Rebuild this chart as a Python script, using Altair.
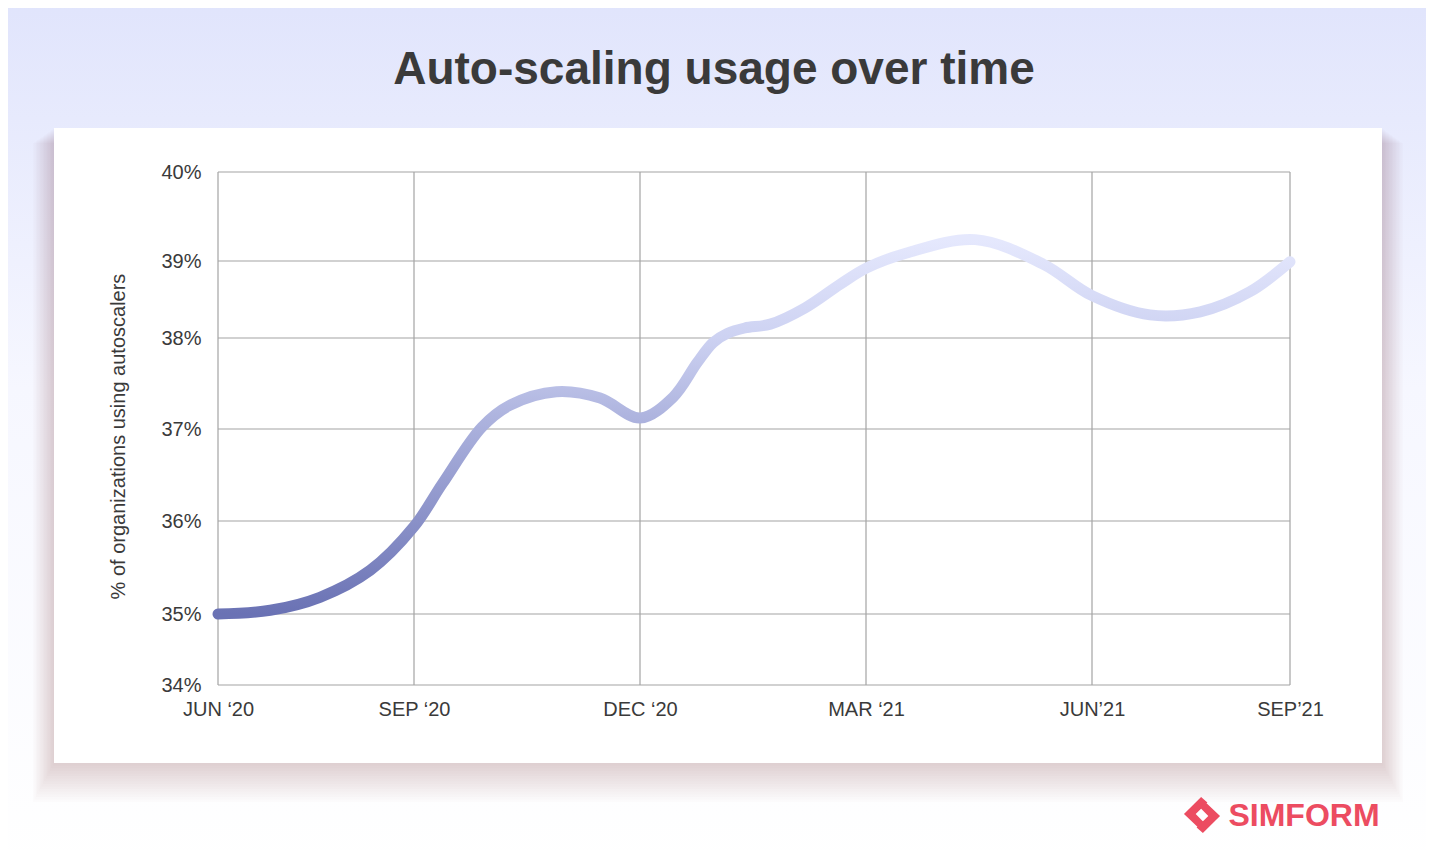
import altair as alt
import pandas as pd

# ---- data ----
tick_months = [0, 3, 6, 9, 12, 15]
tick_labels = ["JUN ‘20", "SEP ‘20", "DEC ‘20", "MAR ‘21", "JUN’21", "SEP’21"]
pct_ticks = [34, 35, 36, 37, 38, 39, 40]

months = [0.00, 0.80, 1.56, 2.33, 3.00, 3.38, 3.90, 4.27, 4.89, 5.47, 6.00, 6.44,
          6.76, 6.97, 7.16, 7.39, 7.73, 8.19, 8.66, 9.01, 9.54, 10.45, 11.35, 12.00,
          12.88, 13.64, 14.39, 15.00]
pct = [35.00, 35.04, 35.18, 35.47, 35.94, 36.41, 37.02, 37.26, 37.41, 37.34, 37.12, 37.35,
       37.73, 37.95, 38.06, 38.13, 38.18, 38.39, 38.70, 38.91, 39.09, 39.24, 38.96, 38.55,
       38.30, 38.34, 38.60, 38.99]

title_text = "Auto-scaling usage over time"
y_title = "% of organizations using autoscalers"

W, H = 1072, 513
FONT = "Liberation Sans"

line_df = pd.DataFrame({"month": months, "pct": pct})
xgrid_df = pd.DataFrame({"month": tick_months})
ygrid_df = pd.DataFrame({"pct": pct_ticks})
one = pd.DataFrame({"a": [0]})

x_scale = alt.Scale(domain=tick_months, range=[0, 196, 422, 648, 874, W], nice=False, zero=False)
y_scale = alt.Scale(domain=pct_ticks, range=[H, 442, 349, 257, 166, 89, 0], nice=False, zero=False)

label_map = "{" + ",".join(f"'{m}':'{l}'" for m, l in zip(tick_months, tick_labels)) + "}"

x_axis = alt.Axis(values=tick_months, grid=False, domain=False, ticks=False,
                  labelExpr=f"{label_map}[datum.value + '']", labelFont=FONT,
                  labelFontSize=20, labelColor="#3a3a3a", labelPadding=14,
                  title=None, zindex=1, labelFlush=False, labelOverlap=False)
y_axis = alt.Axis(values=pct_ticks, grid=False, domain=False, ticks=False,
                  labelExpr="datum.value + '%'", labelFont=FONT, labelFontSize=20,
                  labelColor="#3a3a3a", labelPadding=17, title=y_title,
                  titleFont=FONT, titleFontSize=20, titleFontWeight="normal",
                  titleColor="#3a3a3a", titleX=-100, titleY=264, titleAngle=270,
                  titleAlign="center", titleBaseline="middle", zindex=1,
                  labelFlush=False, labelOverlap=False)

# page background gradient
bg = alt.Chart(one).mark_rect(
    fill=alt.Gradient(gradient="linear",
                      stops=[alt.GradientStop(offset=0, color="#e0e4fc"),
                             alt.GradientStop(offset=0.45, color="#f6f7ff"),
                             alt.GradientStop(offset=1, color="#ffffff")],
                      x1=0, x2=0, y1=0, y2=1)
).encode(x=alt.value(-230), x2=alt.value(1230), y=alt.value(-180), y2=alt.value(700))

# card shadow
shadows = []
for k in range(1, 16):
    shadows.append(
        alt.Chart(one).mark_rect(fill="#8a5a44", opacity=0.014).encode(
            x=alt.value(-164 - 1.4 * k), x2=alt.value(1164 + 1.4 * k),
            y=alt.value(-44 + 1.0 * k), y2=alt.value(591 + 2.6 * k))
    )

card = alt.Chart(one).mark_rect(fill="#ffffff").encode(
    x=alt.value(-164), x2=alt.value(1164), y=alt.value(-44), y2=alt.value(591))

xgrid = alt.Chart(xgrid_df).mark_rule(color="#a3a3a3", strokeWidth=1.2).encode(
    x=alt.X("month:Q", scale=x_scale, axis=x_axis), y=alt.value(0), y2=alt.value(H))
ygrid = alt.Chart(ygrid_df).mark_rule(color="#a3a3a3", strokeWidth=1.2).encode(
    y=alt.Y("pct:Q", scale=y_scale, axis=y_axis), x=alt.value(0), x2=alt.value(W))

line = alt.Chart(line_df).mark_line(
    interpolate="catmull-rom", strokeWidth=11, strokeCap="round", strokeJoin="round",
    color=alt.Gradient(gradient="linear",
                       stops=[alt.GradientStop(offset=0, color="#e5e8fd"),
                              alt.GradientStop(offset=0.26, color="#cdd2f2"),
                              alt.GradientStop(offset=0.48, color="#adb3de"),
                              alt.GradientStop(offset=0.75, color="#8a91c8"),
                              alt.GradientStop(offset=1, color="#6a72b4")],
                       x1=0, x2=0, y1=0, y2=1)
).encode(
    x=alt.X("month:Q", scale=x_scale, axis=x_axis),
    y=alt.Y("pct:Q", scale=y_scale, axis=y_axis),
)

title = alt.Chart(one).mark_text(
    font=FONT, fontSize=46, fontWeight="bold", color="#3a3a3a",
    align="center", baseline="middle"
).encode(x=alt.value(496), y=alt.value(-102), text=alt.value(title_text))

logo_text = alt.Chart(one).mark_text(
    font=FONT, fontSize=32, fontWeight="bold", color="#ec4c61",
    align="center", baseline="middle"
).encode(x=alt.value(1086), y=alt.value(644), text=alt.value("SIMFORM"))

icon_path = ("M -0.05 -1 L -1 -0.05 L -0.05 0.85 L 0.25 0.55 L -0.35 -0.05 L 0.3 -0.7 Z "
             "M 0.05 1 L 1 0.05 L 0.05 -0.85 L -0.25 -0.55 L 0.35 0.05 L -0.3 0.7 Z")
logo_icon = alt.Chart(one).mark_point(
    shape=icon_path, filled=True, fill="#ec4c61", size=1300, opacity=1
).encode(x=alt.value(984), y=alt.value(643))

chart = alt.layer(
    bg, *shadows, card, xgrid, ygrid, line, title, logo_text, logo_icon
).properties(
    width=W, height=H,
    padding={"left": 210, "top": 164, "right": 136, "bottom": 165},
    autosize=alt.AutoSizeParams(type="none"),
    background="#ffffff",
).configure_view(stroke=None)

chart.save("out.html", embed_options={"renderer": "svg", "actions": False})
